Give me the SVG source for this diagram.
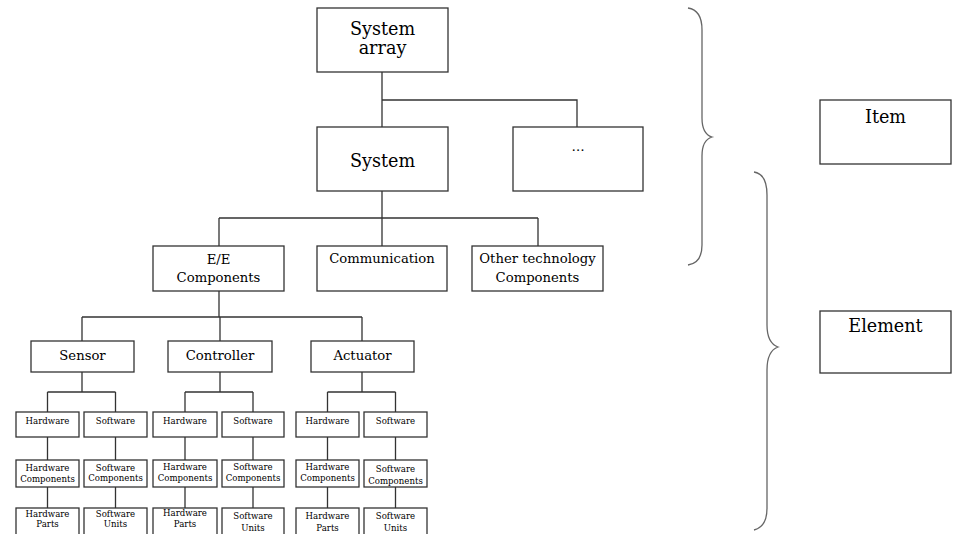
<svg xmlns="http://www.w3.org/2000/svg" width="955" height="534" viewBox="0 0 955 534">
  <style>
    .box { fill: #fff; stroke: #333; stroke-width: 1.3; }
    .wire { fill: none; stroke: #333; stroke-width: 1.3; }
    .brace { fill: none; stroke: #666; stroke-width: 1.3; }
    text { font-family: "DejaVu Serif", "Liberation Serif", serif; fill: #000; text-anchor: middle; }
    .xl { font-size: 17.6px; }
    .md { font-size: 13.2px; }
    .sm { font-size: 8.6px; }
  </style>
  <rect width="955" height="534" fill="#fff"/>

  <!-- tree connectors -->
  <g id="connectors" class="wire">
    <path d="M382 72 V127 M382 100 H577 V127"/>
    <path d="M382 191 V218 M219 218 H538 M219 218 V246 M538 218 V246 M382 218 V246"/>
    <path d="M219 291 V317 M82 317 H362 M82 317 V341 M220 317 V341 M362 317 V341"/>
    <!-- sensor branch -->
    <path d="M82 372 V392 M47.5 392 H115.5 M47.5 392 V412 M115.5 392 V412"/>
    <path d="M47.5 437 V460 M47.5 487 V508 M115.5 437 V460 M115.5 487 V508"/>
    <!-- controller branch -->
    <path d="M220 372 V392 M185 392 H253 M185 392 V412 M253 392 V412"/>
    <path d="M185 437 V460 M185 487 V508 M253 437 V460 M253 487 V508"/>
    <!-- actuator branch -->
    <path d="M362 372 V392 M327.5 392 H395.5 M327.5 392 V412 M395.5 392 V412"/>
    <path d="M327.5 437 V460 M327.5 487 V508 M395.5 437 V460 M395.5 487 V508"/>
  </g>

  <!-- upper levels -->
  <g id="system-array">
    <rect class="box" x="317" y="8" width="131" height="64"/>
    <text class="xl" x="382.5" y="35">System</text>
    <text class="xl" x="382.5" y="54" font-size="16.5">array</text>
  </g>
  <g id="system">
    <rect class="box" x="317" y="127" width="131" height="64"/>
    <text class="xl" x="382.5" y="167">System</text>
  </g>
  <g id="other-system">
    <rect class="box" x="513" y="127" width="130" height="64"/>
    <text class="md" x="578" y="151">…</text>
  </g>
  <g id="ee-components">
    <rect class="box" x="153" y="246" width="131" height="45"/>
    <text class="md" x="218.5" y="264">E/E</text>
    <text class="md" x="218.5" y="282">Components</text>
  </g>
  <g id="communication">
    <rect class="box" x="317" y="246" width="130" height="45"/>
    <text class="md" x="382" y="263">Communication</text>
  </g>
  <g id="other-technology">
    <rect class="box" x="472" y="246" width="131" height="45"/>
    <text class="md" x="537.5" y="263">Other technology</text>
    <text class="md" x="537.5" y="282">Components</text>
  </g>
  <g id="sensor">
    <rect class="box" x="31" y="341" width="103" height="31"/>
    <text class="md" x="82.5" y="360">Sensor</text>
  </g>
  <g id="controller">
    <rect class="box" x="168" y="341" width="104" height="31"/>
    <text class="md" x="220" y="360">Controller</text>
  </g>
  <g id="actuator">
    <rect class="box" x="311" y="341" width="103" height="31"/>
    <text class="md" x="362.5" y="360">Actuator</text>
  </g>

  <!-- sensor details -->
  <g id="sensor-hw">
    <rect class="box" x="16" y="412" width="63" height="25"/>
    <text class="sm" x="47.5" y="424">Hardware</text>
  </g>
  <g id="sensor-sw">
    <rect class="box" x="84" y="412" width="63" height="25"/>
    <text class="sm" x="115.5" y="424">Software</text>
  </g>
  <g id="sensor-hw-components">
    <rect class="box" x="16" y="460" width="63" height="27"/>
    <text class="sm" x="47.5" y="471">Hardware</text>
    <text class="sm" x="47.5" y="482">Components</text>
  </g>
  <g id="sensor-sw-components">
    <rect class="box" x="84" y="460" width="63" height="27"/>
    <text class="sm" x="115.5" y="471">Software</text>
    <text class="sm" x="115.5" y="481">Components</text>
  </g>
  <g id="sensor-hw-parts">
    <rect class="box" x="16" y="508" width="63" height="32"/>
    <text class="sm" x="47.5" y="517">Hardware</text>
    <text class="sm" x="47.5" y="527">Parts</text>
  </g>
  <g id="sensor-sw-units">
    <rect class="box" x="84" y="508" width="63" height="32"/>
    <text class="sm" x="115.5" y="517">Software</text>
    <text class="sm" x="115.5" y="527">Units</text>
  </g>

  <!-- controller details -->
  <g id="controller-hw">
    <rect class="box" x="153" y="412" width="64" height="25"/>
    <text class="sm" x="185" y="424">Hardware</text>
  </g>
  <g id="controller-sw">
    <rect class="box" x="222" y="412" width="62" height="25"/>
    <text class="sm" x="253" y="424">Software</text>
  </g>
  <g id="controller-hw-components">
    <rect class="box" x="153" y="460" width="64" height="27"/>
    <text class="sm" x="185" y="470">Hardware</text>
    <text class="sm" x="185" y="481">Components</text>
  </g>
  <g id="controller-sw-components">
    <rect class="box" x="222" y="460" width="62" height="27"/>
    <text class="sm" x="253" y="470">Software</text>
    <text class="sm" x="253" y="481">Components</text>
  </g>
  <g id="controller-hw-parts">
    <rect class="box" x="153" y="508" width="64" height="32"/>
    <text class="sm" x="185" y="516">Hardware</text>
    <text class="sm" x="185" y="527">Parts</text>
  </g>
  <g id="controller-sw-units">
    <rect class="box" x="222" y="508" width="62" height="32"/>
    <text class="sm" x="253" y="519">Software</text>
    <text class="sm" x="253" y="531">Units</text>
  </g>

  <!-- actuator details -->
  <g id="actuator-hw">
    <rect class="box" x="296" y="412" width="63" height="25"/>
    <text class="sm" x="327.5" y="424">Hardware</text>
  </g>
  <g id="actuator-sw">
    <rect class="box" x="364" y="412" width="63" height="25"/>
    <text class="sm" x="395.5" y="424">Software</text>
  </g>
  <g id="actuator-hw-components">
    <rect class="box" x="296" y="460" width="63" height="27"/>
    <text class="sm" x="327.5" y="470">Hardware</text>
    <text class="sm" x="327.5" y="481">Components</text>
  </g>
  <g id="actuator-sw-components">
    <rect class="box" x="364" y="460" width="63" height="27"/>
    <text class="sm" x="395.5" y="472">Software</text>
    <text class="sm" x="395.5" y="484">Components</text>
  </g>
  <g id="actuator-hw-parts">
    <rect class="box" x="296" y="508" width="63" height="32"/>
    <text class="sm" x="327.5" y="519">Hardware</text>
    <text class="sm" x="327.5" y="531">Parts</text>
  </g>
  <g id="actuator-sw-units">
    <rect class="box" x="364" y="508" width="63" height="32"/>
    <text class="sm" x="395.5" y="519">Software</text>
    <text class="sm" x="395.5" y="531">Units</text>
  </g>

  <!-- braces grouping the levels -->
  <g id="braces" class="brace">
    <path d="M688 8 Q702 10 702 30 V118 Q702 134 712 137 Q702 140 702 156 V245 Q702 263 688 265"/>
    <path d="M754 172 Q767 174 767 195 V325 Q767 343 778 347 Q767 351 767 370 V508 Q767 527 754 530"/>
  </g>

  <!-- level labels -->
  <g id="item">
    <rect class="box" x="820" y="100" width="131" height="64"/>
    <text class="xl" x="885.5" y="123">Item</text>
  </g>
  <g id="element">
    <rect class="box" x="820" y="311" width="131" height="62"/>
    <text class="xl" x="885.5" y="332">Element</text>
  </g>
</svg>
